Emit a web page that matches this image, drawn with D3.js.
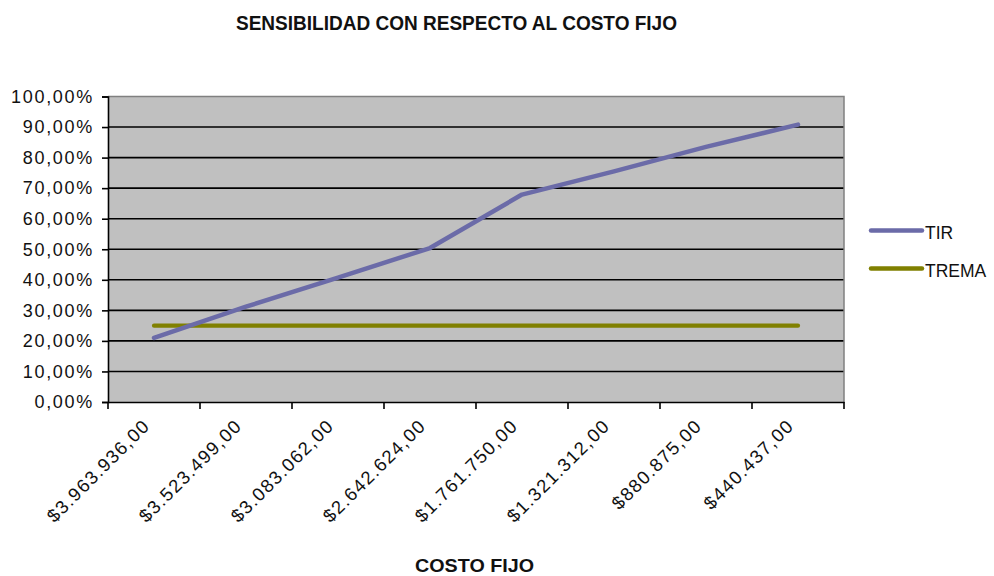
<!DOCTYPE html>
<html><head><meta charset="utf-8">
<script src="https://cdn.jsdelivr.net/npm/d3@7"></script>
<style>
html,body{margin:0;padding:0;background:#fff;}
svg{display:block;font-family:Arial,"Liberation Sans",sans-serif;}
</style></head>
<body><svg id="c" width="994" height="576"></svg>
<script>
const categories = ["$3.963.936,00","$3.523.499,00","$3.083.062,00","$2.642.624,00","$1.761.750,00","$1.321.312,00","$880.875,00","$440.437,00"];
const tirValues = [0.21, 0.312, 0.407, 0.504, 0.679, 0.755, 0.835, 0.908];
const tremaValues = [0.25, 0.25, 0.25, 0.25, 0.25, 0.25, 0.25, 0.25];
const yTicks = [0,0.1,0.2,0.3,0.4,0.5,0.6,0.7,0.8,0.9,1.0];
const seriesNames = ["TIR","TREMA"];
const titleText = "SENSIBILIDAD CON RESPECTO AL COSTO FIJO";
const xTitleText = "COSTO FIJO";

const svg = d3.select("#c");
const L=108, R=844, T=96.5, B=402;
const x = d3.scaleBand().domain(categories).range([L,R]);
const y = d3.scaleLinear().domain([0,1]).range([B,T]);
const fmt = v => (v*100).toFixed(2).replace(".",",") + "%";

// plot background
svg.append("rect").attr("x",L).attr("y",T).attr("width",R-L).attr("height",B-T).attr("fill","#c0c0c0");
// gridlines
svg.append("g").selectAll("line").data(yTicks.filter(v=>v>0 && v<1)).join("line")
  .attr("x1",L).attr("x2",R).attr("y1",d=>y(d)).attr("y2",d=>y(d))
  .attr("stroke","#000").attr("stroke-width",1.6);
// border top/right
svg.append("path").attr("d",`M${L},${T}H${R}V${B}`).attr("fill","none").attr("stroke","#808080").attr("stroke-width",1.5);

// y axis
const yAxis = d3.axisLeft(y).tickValues(yTicks).tickFormat(fmt).tickSize(6).tickPadding(8);
const yg = svg.append("g").attr("transform",`translate(${L},0)`).call(yAxis);
yg.select(".domain").attr("stroke","#000").attr("stroke-width",1.6);
yg.selectAll(".tick line").attr("stroke","#000").attr("stroke-width",1.6);
yg.selectAll(".tick text").attr("font-size","18px").attr("fill","#111")
  .attr("letter-spacing","1.7px").attr("font-family",'Arial,"Liberation Sans",sans-serif');

// x axis
const xAxis = d3.axisBottom(x).tickSize(0).tickFormat(d=>d);
const xg = svg.append("g").attr("transform",`translate(0,${B})`).call(xAxis);
xg.select(".domain").attr("stroke","#000").attr("stroke-width",1.6);
xg.selectAll(".tick text").attr("font-size","18.5px").attr("fill","#111")
  .attr("font-family",'Arial,"Liberation Sans",sans-serif')
  .attr("letter-spacing","1.4px")
  .attr("text-anchor","end").attr("dy",null).attr("y",null)
  .attr("transform","translate(-3,25) rotate(-45)");
// x boundary ticks
const bounds = categories.map(c=>x(c)).concat([R]);
svg.append("g").selectAll("line").data(bounds).join("line")
  .attr("x1",d=>d).attr("x2",d=>d).attr("y1",B).attr("y2",B+7)
  .attr("stroke","#000").attr("stroke-width",1.6);

// lines
const cx = d => x(d) + x.bandwidth()/2;
const line = d3.line().x((d,i)=>cx(categories[i])).y(d=>y(d));
svg.append("path").datum(tremaValues).attr("d",line).attr("fill","none")
  .attr("stroke","#808000").attr("stroke-width",4.2).attr("stroke-linecap","round");
svg.append("path").datum(tirValues).attr("d",line).attr("fill","none")
  .attr("stroke","#6b6ba8").attr("stroke-width",4.5).attr("stroke-linejoin","round").attr("stroke-linecap","round");

// legend
const legColors = ["#6b6ba8","#808000"];
const lg = svg.append("g");
seriesNames.forEach((n,i)=>{
  const ly = 230.5 + i*38;
  lg.append("line").attr("x1",871).attr("x2",922).attr("y1",ly).attr("y2",ly)
    .attr("stroke",legColors[i]).attr("stroke-width",4.5).attr("stroke-linecap","round");
  lg.append("text").attr("x",925).attr("y",ly+8.5).attr("font-size","17.5px").attr("fill","#111").text(n);
});

// titles
svg.append("text").attr("x",456.5).attr("y",30).attr("text-anchor","middle")
  .attr("font-size","20px").attr("font-weight","bold").attr("fill","#111")
  .attr("textLength",441).attr("lengthAdjust","spacingAndGlyphs").text(titleText);
svg.append("text").attr("x",474.5).attr("y",571.5).attr("text-anchor","middle")
  .attr("font-size","18.5px").attr("font-weight","bold").attr("fill","#111")
  .attr("textLength",119).attr("lengthAdjust","spacingAndGlyphs").text(xTitleText);
</script>
</body></html>
